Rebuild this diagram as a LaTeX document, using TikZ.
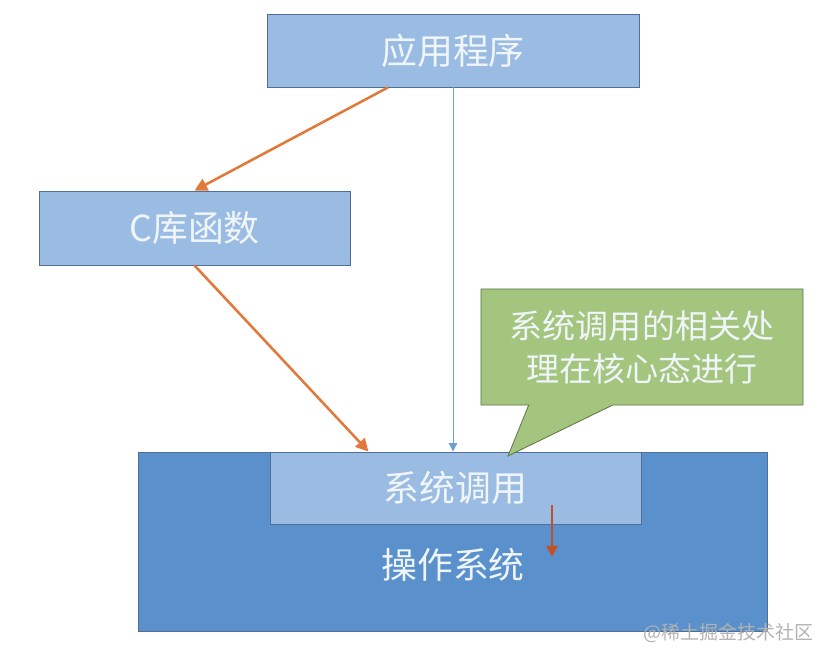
\documentclass[tikz,border=0pt]{standalone}
\usepackage{fontspec}
\setmainfont{Noto Sans CJK SC}
\usetikzlibrary{calc,shapes.callouts,arrows.meta}

\definecolor{boxblue}{RGB}{155,188,226}
\definecolor{osblue}{RGB}{90,145,204}
\definecolor{edgeblue}{RGB}{80,110,150}
\definecolor{notegreen}{RGB}{163,197,126}
\definecolor{edgegreen}{RGB}{95,120,75}
\definecolor{arrorange}{RGB}{226,120,58}
\definecolor{arrred}{RGB}{192,80,40}
\definecolor{thinblue}{RGB}{110,160,210}
\definecolor{txtwhite}{RGB}{240,245,250}

\tikzset{
  layerbox/.style={rectangle, draw=edgeblue, line width=0.6pt, fill=boxblue,
    text=txtwhite, font=\fontsize{25.5}{30}\selectfont},
  callarrow/.style={-{Triangle[length=9pt,width=9pt]}, draw=arrorange, line width=1.8pt},
  direct/.style={-{Triangle[length=6pt,width=6pt]}, draw=thinblue, line width=0.7pt}
}

\begin{document}
\begin{tikzpicture}[x=0.025cm,y=-0.025cm]
            \useasboundingbox (0,0) rectangle (836,662);

            % Top node
            \node[layerbox, minimum width=9.3cm, minimum height=1.825cm] (app) at (453,50.5) {应用程序};

            % Library node
            \node[layerbox, minimum width=7.775cm, minimum height=1.85cm] (clib) at (194.5,228) {C库函数};

            % Operating system with the system call layer on top
            \node[layerbox, fill=osblue, minimum width=15.7cm, minimum height=4.475cm] (os) at (453,541.5) {};
            \node[layerbox, minimum width=9.275cm, minimum height=1.8cm] (syscall) at (455.5,488) {系统调用};
            \node[text=txtwhite, font=\fontsize{25.5}{30}\selectfont] (oslabel) at (453,565) {操作系统};

            % Note
            \node[rectangle callout, draw=edgegreen, line width=0.6pt, fill=notegreen,
              text=txtwhite, font=\fontsize{23.5}{30.5}\selectfont, align=center,
              minimum width=8.05cm, minimum height=2.9cm,
              callout absolute pointer={(508,456)}, callout pointer width=2.1cm] (note) at (642,347)
              {系统调用的相关处\\理在核心态进行};

            % Calls
            \draw[callarrow] ($(app.south)+(-65,0)$) -- (clib.north);
            \draw[callarrow] (clib.south) -- ($(syscall.north)+(-87,0)$);
            \draw[direct] (app.south) -- (app.south |- syscall.north);

            \coordinate (down1) at (552,505);
            \coordinate (down2) at (552,557);
            \draw[-{Triangle[length=8pt,width=8pt]}, draw=arrred, line width=1.8pt] (down1) -- (down2);

            \node[anchor=east, text=black!30, font=\fontsize{13.5}{16}\selectfont] (mark) at (818,633) {@稀土掘金技术社区};
\end{tikzpicture}
\end{document}
